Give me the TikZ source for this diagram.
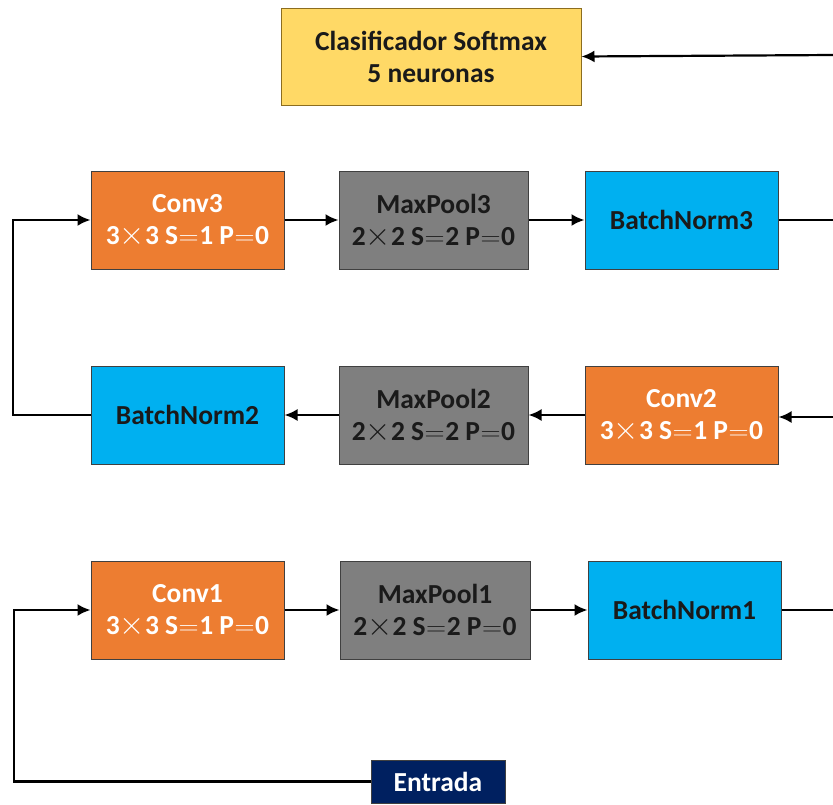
\documentclass[tikz,border=0pt]{standalone}
\usepackage{fontspec}
\usepackage{graphicx}
\setmainfont{Carlito}
\usetikzlibrary{arrows.meta}
\definecolor{softy}{HTML}{FFD966}
\definecolor{softb}{HTML}{8C6D1F}
\definecolor{convc}{HTML}{ED7D31}
\definecolor{poolc}{HTML}{7F7F7F}
\definecolor{bnc}{HTML}{00B0F0}
\definecolor{entc}{HTML}{002060}
\definecolor{txtd}{HTML}{1A1A1A}
\newcommand{\tms}{\smash{\scalebox{1.3}{$\times$}}}
\newcommand{\eqs}{\kern0.5pt\smash{\scalebox{1.12}[1]{$=$}}\kern0.5pt}
\begin{document}
\begin{tikzpicture}[x=1pt,y=-1pt,
  box/.style={draw=black!75,line width=1pt,minimum width=193pt,minimum height=98pt,
    align=center,inner sep=0pt,font=\fontsize{27.5}{32}\selectfont\bfseries},
  convbox/.style={box,fill=convc,text=white},
  poolbox/.style={box,fill=poolc,text=txtd,minimum width=189pt},
  bnbox/.style={box,fill=bnc,text=txtd},
  softbox/.style={box,fill=softy,draw=softb,text=txtd,minimum width=300pt,minimum height=97pt},
  entbox/.style={box,fill=entc,text=white,minimum width=134pt,minimum height=43pt},
  conn/.style={line width=2.2pt,black,-{Latex[length=13pt,width=12pt]}},
  plain/.style={line width=2.2pt,black}
]
\useasboundingbox (0,0) rectangle (833,804);

\node[softbox] (soft) at (431,56.5) {Clasificador Softmax\\5 neuronas};

\node[convbox] (c3) at (187.5,220) {Conv3\\3\tms3 S\eqs1 P\eqs0};
\node[poolbox] (p3) at (433.5,220) {MaxPool3\\2\tms2 S\eqs2 P\eqs0};
\node[bnbox] (b3) at (681.5,220) {BatchNorm3};

\node[bnbox] (b2) at (187.5,415) {BatchNorm2};
\node[poolbox] (p2) at (433.5,415) {MaxPool2\\2\tms2 S\eqs2 P\eqs0};
\node[convbox] (c2) at (681.5,415) {Conv2\\3\tms3 S\eqs1 P\eqs0};

\node[convbox] (c1) at (187.5,610) {Conv1\\3\tms3 S\eqs1 P\eqs0};
\node[poolbox,minimum width=190pt] (p1) at (435,610) {MaxPool1\\2\tms2 S\eqs2 P\eqs0};
\node[bnbox] (b1) at (684.5,610) {BatchNorm1};

\node[entbox] (ent) at (438,781.5) {Entrada};

\coordinate (rs) at (833,55);
\coordinate (r3) at (833,220);
\coordinate (r2) at (833,417);
\coordinate (r1) at (833,610);
\coordinate (l2) at (13,415);
\coordinate (l1) at (14,781.5);

\draw[conn] (rs) -- (soft.east);
\draw[conn] (c3) -- (p3);
\draw[conn] (p3) -- (b3);
\draw[plain] (b3.east) -- (r3);
\draw[conn] (r2) -- (c2.east |- r2);
\draw[conn] (c2) -- (p2);
\draw[conn] (p2) -- (b2);
\draw[conn] (b2.west) -- (l2) |- (c3.west);
\draw[conn] (ent.west) -- (l1) |- (c1.west);
\draw[conn] (c1) -- (p1);
\draw[conn] (p1) -- (b1);
\draw[plain] (b1.east) -- (r1);
\end{tikzpicture}
\end{document}
